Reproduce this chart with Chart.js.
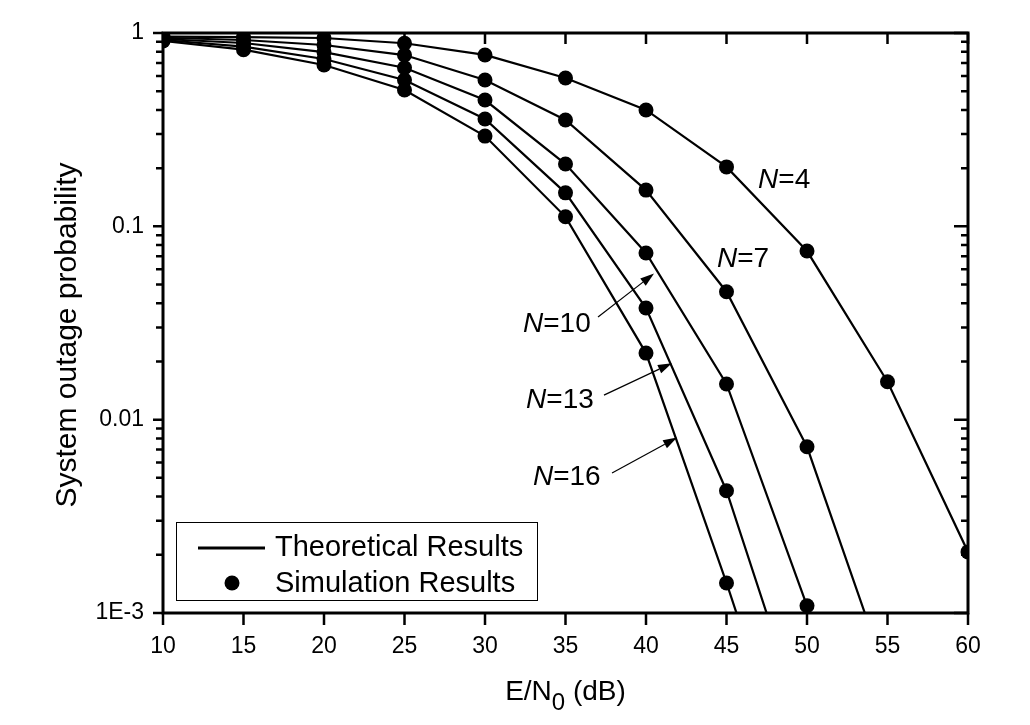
<!DOCTYPE html>
<html><head><meta charset="utf-8">
<script src="https://cdn.jsdelivr.net/npm/chart.js@4.4.1/dist/chart.umd.min.js"></script>
<style>html,body{margin:0;padding:0;background:#fff;}#wrap{width:1030px;height:725px;}</style>
</head><body><div id="wrap"><canvas id="c" width="1030" height="725"></canvas></div>
<script>
// ---- data ----
const snrDb = [10, 15, 20, 25, 30, 35, 40, 45, 50, 55, 60];
const theoN4  = [0.958, 0.953, 0.942, 0.885, 0.77, 0.585, 0.40, 0.203, 0.0745, 0.0157, 0.00207];
const theoN7  = [0.945, 0.92, 0.867, 0.769, 0.571, 0.355, 0.154, 0.0459, 0.00724, 0.00046];
const theoN10 = [0.931, 0.888, 0.797, 0.661, 0.45, 0.21, 0.0728, 0.0153, 0.00109, 0.00006];
const theoN13 = [0.92, 0.851, 0.734, 0.571, 0.359, 0.149, 0.0378, 0.00429, 0.00023];
const theoN16 = [0.909, 0.82, 0.683, 0.507, 0.293, 0.112, 0.0221, 0.00143, 0.00008];
const simN4  = [0.958, 0.953, 0.942, 0.885, 0.77, 0.585, 0.40, 0.203, 0.0745, 0.0157, 0.00207];
const simN7  = [0.945, 0.92, 0.867, 0.769, 0.571, 0.355, 0.154, 0.0459, 0.00724];
const simN10 = [0.931, 0.888, 0.797, 0.661, 0.45, 0.21, 0.0728, 0.0153, 0.00109];
const simN13 = [0.92, 0.851, 0.734, 0.571, 0.359, 0.149, 0.0378, 0.00429];
const simN16 = [0.909, 0.82, 0.683, 0.507, 0.293, 0.112, 0.0221, 0.00143];
const yTickValues = [1, 0.1, 0.01, 0.001];
const yTickLabels = ['1', '0.1', '0.01', '1E-3'];
const seriesNames = ['4', '7', '10', '13', '16'];
// label anchors (data coords: x, y at text baseline)
const labelX = [46.96, 44.41, 32.36, 32.55, 32.98];
const labelY = [0.158, 0.0616, 0.0284, 0.01148, 0.00459];
// arrows (data coords) for N=10, 13, 16
const arrowFromX = [37.02, 37.39, 37.89];
const arrowFromY = [0.0340, 0.0134, 0.0053];
const arrowToX = [40.50, 41.61, 41.93];
const arrowToY = [0.0570, 0.0196, 0.00808];
const legendLabels = ['Theoretical Results', 'Simulation Results'];
const xTitleMain = 'E/N', xTitleSub = '0', xTitleTail = ' (dB)';
const yTitle = 'System outage probability';

const FONT = '"Liberation Sans", Arial, sans-serif';
Chart.defaults.font.family = FONT;
Chart.defaults.color = '#000';

const toPts = arr => arr.map((v, i) => ({x: snrDb[i], y: v}));
const theo = [theoN4, theoN7, theoN10, theoN13, theoN16];
const sim = [simN4, simN7, simN10, simN13, simN16];
const datasets = [];
theo.forEach((arr, i) => datasets.push({
  type: 'line', label: 'Theory N=' + seriesNames[i], data: toPts(arr),
  borderColor: '#000', borderWidth: 2.2, pointRadius: 0, fill: false, tension: 0, clip: 0
}));
sim.forEach((arr, i) => datasets.push({
  type: 'scatter', label: 'Sim N=' + seriesNames[i], data: toPts(arr),
  backgroundColor: '#000', borderColor: '#000', pointRadius: 7.5, borderWidth: 0, showLine: false, clip: 0
}));

const decor = {
  id: 'decor',
  afterDraw(chart) {
    const ctx = chart.ctx, a = chart.chartArea;
    const xs = chart.scales.x, ys = chart.scales.y;
    ctx.save();
    ctx.strokeStyle = '#000'; ctx.fillStyle = '#000';
    // ticks
    ctx.lineWidth = 2.5;
    ctx.beginPath();
    yTickValues.forEach(v => {
      const p = ys.getPixelForValue(v);
      ctx.moveTo(a.left - 10, p); ctx.lineTo(a.left, p);
      ctx.moveTo(a.right - 14, p); ctx.lineTo(a.right, p);
    });
    for (let d = 0.001; d < 0.5; d *= 10) {
      for (let m = 2; m <= 9; m++) {
        const p = ys.getPixelForValue(m * d);
        ctx.moveTo(a.left - 7, p); ctx.lineTo(a.left, p);
        ctx.moveTo(a.right - 7, p); ctx.lineTo(a.right, p);
      }
    }
    for (let v = xs.min; v <= xs.max; v += 5) {
      const p = xs.getPixelForValue(v);
      ctx.moveTo(p, a.top); ctx.lineTo(p, a.top + 11);
      ctx.moveTo(p, a.bottom); ctx.lineTo(p, a.bottom + 12);
    }
    ctx.stroke();
    // frame
    ctx.lineWidth = 3;
    ctx.strokeRect(a.left, a.top, a.right - a.left, a.bottom - a.top);

    // series labels
    ctx.textBaseline = 'alphabetic'; ctx.textAlign = 'left';
    seriesNames.forEach((n, i) => {
      let x = xs.getPixelForValue(labelX[i]);
      const y = ys.getPixelForValue(labelY[i]);
      ctx.font = 'italic 28px ' + FONT;
      ctx.fillText('N', x, y);
      x += ctx.measureText('N').width;
      ctx.font = '28px ' + FONT;
      ctx.fillText('=' + n, x, y);
    });
    // arrows
    ctx.lineWidth = 1.2;
    arrowFromX.forEach((fx, i) => {
      const x1 = xs.getPixelForValue(fx), y1 = ys.getPixelForValue(arrowFromY[i]);
      const x2 = xs.getPixelForValue(arrowToX[i]), y2 = ys.getPixelForValue(arrowToY[i]);
      const ang = Math.atan2(y2 - y1, x2 - x1);
      const hl = 14, hw = 4.5;
      const bx = x2 - hl * Math.cos(ang), by = y2 - hl * Math.sin(ang);
      ctx.beginPath(); ctx.moveTo(x1, y1); ctx.lineTo(bx, by); ctx.stroke();
      ctx.beginPath();
      ctx.moveTo(x2, y2);
      ctx.lineTo(bx + hw * Math.sin(ang), by - hw * Math.cos(ang));
      ctx.lineTo(bx - hw * Math.sin(ang), by + hw * Math.cos(ang));
      ctx.closePath(); ctx.fill();
    });
    // legend
    const lx = a.left + 13, ly = a.bottom - 91;
    ctx.lineWidth = 1;
    ctx.strokeRect(lx + 0.5, ly + 0.5, 361, 78);
    ctx.lineWidth = 3;
    ctx.beginPath(); ctx.moveTo(lx + 22, ly + 26); ctx.lineTo(lx + 89, ly + 26); ctx.stroke();
    ctx.beginPath(); ctx.arc(lx + 56, ly + 61, 7.5, 0, Math.PI * 2); ctx.fill();
    ctx.font = '29px ' + FONT;
    ctx.fillText(legendLabels[0], lx + 99, ly + 34);
    ctx.fillText(legendLabels[1], lx + 99, ly + 70);

    // x title with subscript
    ctx.font = '28px ' + FONT;
    const w1 = ctx.measureText(xTitleMain).width;
    const w3 = ctx.measureText(xTitleTail).width;
    ctx.font = '24px ' + FONT;
    const w2 = ctx.measureText(xTitleSub).width;
    const total = w1 + w2 + w3;
    let tx = (a.left + a.right) / 2 - total / 2;
    const tb = 700;
    ctx.font = '28px ' + FONT; ctx.fillText(xTitleMain, tx, tb); tx += w1;
    ctx.font = '24px ' + FONT; ctx.fillText(xTitleSub, tx, tb + 10); tx += w2;
    ctx.font = '28px ' + FONT; ctx.fillText(xTitleTail, tx, tb);
    // y title
    ctx.translate(68, 335);
    ctx.rotate(-Math.PI / 2);
    ctx.textAlign = 'center'; ctx.textBaseline = 'middle';
    ctx.font = '30px ' + FONT;
    ctx.fillText(yTitle, 0, 0);
    ctx.restore();
  }
};

new Chart(document.getElementById('c'), {
  data: { datasets },
  options: {
    responsive: false, animation: false, devicePixelRatio: 1,
    layout: { padding: { left: 0, top: 33, right: 62, bottom: 0 } },
    plugins: { legend: { display: false }, tooltip: { enabled: false } },
    scales: {
      x: {
        type: 'linear', position: 'bottom', min: 10, max: 60,
        ticks: { stepSize: 5, font: { size: 23 }, color: '#000', padding: 20, maxRotation: 0 },
        grid: { display: false, drawTicks: false }, border: { display: false },
        afterFit: s => { s.height = 112; }
      },
      y: {
        type: 'logarithmic', position: 'left', min: 0.001, max: 1,
        afterBuildTicks: s => { s.ticks = yTickValues.map(v => ({ value: v, major: true })); },
        ticks: {
          font: { size: 23 }, color: '#000', padding: 19, autoSkip: false,
          callback: (v) => { const i = yTickValues.findIndex(t => Math.abs(t - v) / t < 1e-6); return i >= 0 ? yTickLabels[i] : ''; }
        },
        grid: { display: false, drawTicks: false }, border: { display: false },
        afterFit: s => { s.width = 163; }
      }
    }
  },
  plugins: [decor]
});
</script>
</body></html>
